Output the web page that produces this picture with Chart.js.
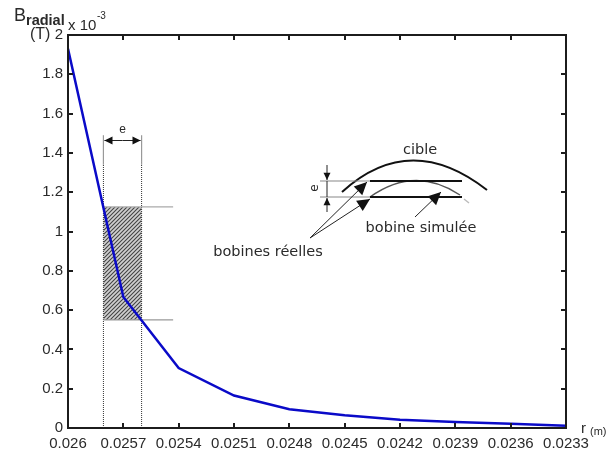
<!DOCTYPE html>
<html>
<head>
<meta charset="utf-8">
<script src="https://cdn.jsdelivr.net/npm/chart.js@4/dist/chart.umd.min.js"></script>
<style>
  html, body { margin: 0; padding: 0; background: #fff; }
  canvas { display: block; }
</style>
</head>
<body>
<canvas id="fieldChart" width="608" height="453"></canvas>
<script>
// values (B in units of 10^-3 T)
const radius = [0.026, 0.0257, 0.0254, 0.0251, 0.0248, 0.0245, 0.0242, 0.0239, 0.0236, 0.0233];
const bRadial = [1.93, 0.667, 0.305, 0.165, 0.095, 0.065, 0.042, 0.03, 0.022, 0.012];
const xTickLabels = ['0.026', '0.0257', '0.0254', '0.0251', '0.0248', '0.0245', '0.0242', '0.0239', '0.0236', '0.0233'];
const yTicks = [0, 0.2, 0.4, 0.6, 0.8, 1, 1.2, 1.4, 1.6, 1.8, 2];
const yTickLabels = ['0', '0.2', '0.4', '0.6', '0.8', '1', '1.2', '1.4', '1.6', '1.8', '2'];

// the hatched band e
const bandR = [0.025808, 0.025601];
const bandB = [0.55, 1.125];
const guideEndR = 0.02543;
const guideTopB = 1.49;
const guideSplitB = 1.34;

const SANS = '"Liberation Sans", Arial, sans-serif';
const DEJA = '"DejaVu Sans", sans-serif';
const INK = '#2a2a2a';

function hatchPattern() {
  const c = document.createElement('canvas');
  c.width = 4; c.height = 4;
  const g = c.getContext('2d');
  g.fillStyle = '#d0d0d0';
  g.fillRect(0, 0, 4, 4);
  g.strokeStyle = '#444';
  g.lineWidth = 1.1;
  g.beginPath();
  g.moveTo(-1, 3); g.lineTo(3, -1);
  g.moveTo(1, 5); g.lineTo(5, 1);
  g.stroke();
  return document.createElement('canvas').getContext('2d').createPattern(c, 'repeat');
}

function guide(x0, y0, x1, y1, color, width, dash) {
  return {
    data: [{ x: x0, y: y0 }, { x: x1, y: y1 }],
    borderColor: color, borderWidth: width, borderDash: dash || [],
    pointRadius: 0, fill: false, order: 5
  };
}

function arrow(ctx, x0, y0, x1, y1, size) {
  const a = Math.atan2(y1 - y0, x1 - x0);
  ctx.beginPath();
  ctx.moveTo(x0, y0); ctx.lineTo(x1, y1);
  ctx.stroke();
  ctx.beginPath();
  ctx.moveTo(x1, y1);
  ctx.lineTo(x1 - size * Math.cos(a - 0.45), y1 - size * Math.sin(a - 0.45));
  ctx.lineTo(x1 - size * Math.cos(a + 0.45), y1 - size * Math.sin(a + 0.45));
  ctx.closePath();
  ctx.fill();
}

function line(ctx, x0, y0, x1, y1) {
  ctx.beginPath();
  ctx.moveTo(x0, y0); ctx.lineTo(x1, y1);
  ctx.stroke();
}

function label(ctx, text, x, y, font, color, align) {
  ctx.font = font;
  ctx.fillStyle = color || INK;
  ctx.textAlign = align || 'left';
  ctx.textBaseline = 'middle';
  ctx.fillText(text, x, y);
}

// frame and inward ticks on all four sides
const framePlugin = {
  id: 'frame',
  afterDatasetsDraw(chart) {
    const { ctx, chartArea: a, scales } = chart;
    ctx.save();
    ctx.strokeStyle = '#1c1c1c';
    ctx.lineWidth = 2;
    ctx.strokeRect(a.left, a.top, a.right - a.left, a.bottom - a.top);
    radius.forEach(r => {
      const x = Math.round(scales.x.getPixelForValue(r));
      line(ctx, x, a.bottom, x, a.bottom - 5);
      line(ctx, x, a.top, x, a.top + 5);
    });
    yTicks.forEach(v => {
      const y = Math.round(scales.y.getPixelForValue(v));
      line(ctx, a.left, y, a.left + 5, y);
      line(ctx, a.right, y, a.right - 5, y);
    });
    ctx.restore();
  }
};

// axis titles and the inset sketch
const notesPlugin = {
  id: 'notes',
  afterDraw(chart) {
    const { ctx } = chart;
    ctx.save();
    label(ctx, 'B', 14, 16, '18px ' + SANS);
    label(ctx, 'radial', 26, 21, 'bold 14.5px ' + SANS);
    label(ctx, 'x 10', 68, 26, '15px ' + SANS);
    label(ctx, '-3', 97, 16, '10px ' + SANS);
    label(ctx, '(T)', 30, 35, '16px ' + SANS);
    label(ctx, 'r', 581, 429, '15px ' + SANS);
    label(ctx, '(m)', 590, 432, '11px ' + SANS);

    // width marker above the band
    const xa = chart.scales.x.getPixelForValue(bandR[0]);
    const xb = chart.scales.x.getPixelForValue(bandR[1]);
    ctx.strokeStyle = '#222'; ctx.fillStyle = '#111'; ctx.lineWidth = 1;
    arrow(ctx, (xa + xb) / 2, 140.5, xa + 1, 140.5, 9);
    arrow(ctx, (xa + xb) / 2, 140.5, xb - 1, 140.5, 9);
    label(ctx, 'e', (xa + xb) / 2, 130, '12px ' + SANS, INK, 'center');

    // sketch: target
    ctx.strokeStyle = '#111'; ctx.lineWidth = 2;
    ctx.beginPath();
    ctx.moveTo(342, 192);
    ctx.quadraticCurveTo(410, 130, 487, 190);
    ctx.stroke();
    // simulated coil
    ctx.strokeStyle = '#555'; ctx.lineWidth = 1.5;
    ctx.beginPath();
    ctx.moveTo(370, 197);
    ctx.quadraticCurveTo(415, 165, 460, 195);
    ctx.stroke();
    ctx.strokeStyle = '#bbb';
    line(ctx, 464, 199, 469, 203);
    // real coils
    ctx.strokeStyle = '#111'; ctx.lineWidth = 2;
    line(ctx, 370, 181, 462, 181);
    line(ctx, 370, 197, 462, 197);
    ctx.strokeStyle = '#888'; ctx.lineWidth = 1.2;
    line(ctx, 320, 181, 370, 181);
    line(ctx, 320, 197, 370, 197);
    // e marker
    ctx.strokeStyle = '#222'; ctx.fillStyle = '#111'; ctx.lineWidth = 1;
    arrow(ctx, 327, 165, 327, 180, 8);
    arrow(ctx, 327, 212, 327, 198, 8);
    line(ctx, 327, 181, 327, 197);
    ctx.save();
    ctx.translate(315, 188);
    ctx.rotate(-Math.PI / 2);
    label(ctx, 'e', 0, 0, '12px ' + DEJA, INK, 'center');
    ctx.restore();
    // pointers
    ctx.fillStyle = '#111'; ctx.strokeStyle = '#222';
    arrow(ctx, 310, 238, 367, 182, 14);
    arrow(ctx, 310, 238, 370, 199, 14);
    arrow(ctx, 415, 217, 441, 192, 14);

    label(ctx, 'cible', 420, 150, '14.5px ' + DEJA, INK, 'center');
    label(ctx, 'bobine simulée', 421, 228, '14.5px ' + DEJA, INK, 'center');
    label(ctx, 'bobines réelles', 268, 252, '14.5px ' + DEJA, INK, 'center');
    ctx.restore();
  }
};

new Chart(document.getElementById('fieldChart'), {
  type: 'line',
  plugins: [framePlugin, notesPlugin],
  data: {
    datasets: [
      {
        data: radius.map((r, i) => ({ x: r, y: bRadial[i] })),
        borderColor: '#0a0ac8', borderWidth: 2.5, pointRadius: 0, tension: 0,
        fill: false, order: 1
      },
      {
        data: bandR.map(r => ({ x: r, y: bandB[1] })),
        borderWidth: 0, pointRadius: 0, order: 9,
        backgroundColor: hatchPattern(), fill: { value: bandB[0] }
      },
      guide(bandR[0], bandB[1], guideEndR, bandB[1], '#aaa', 1.3),
      guide(bandR[0], bandB[0], guideEndR, bandB[0], '#999', 1.3),
      guide(bandR[0], 0, bandR[0], guideSplitB, '#333', 1, [1, 1]),
      guide(bandR[1], 0, bandR[1], guideSplitB, '#333', 1, [1, 1]),
      guide(bandR[0], guideSplitB, bandR[0], guideTopB, '#999', 1.2),
      guide(bandR[1], guideSplitB, bandR[1], guideTopB, '#999', 1.2)
    ]
  },
  options: {
    responsive: false,
    animation: false,
    layout: { padding: { left: 0, top: 35, right: 42, bottom: 0 } },
    plugins: { legend: { display: false }, tooltip: { enabled: false } },
    scales: {
      x: {
        type: 'linear', reverse: true, min: radius[radius.length - 1], max: radius[0],
        grid: { display: false, drawTicks: false }, border: { display: false },
        afterBuildTicks: s => { s.ticks = radius.map(v => ({ value: v })); },
        afterFit: s => { s.height = 25; },
        ticks: {
          autoSkip: false, maxRotation: 0, padding: 7, color: INK,
          font: { family: SANS, size: 15 },
          callback: v => xTickLabels[radius.indexOf(v)]
        }
      },
      y: {
        min: 0, max: 2,
        grid: { display: false, drawTicks: false }, border: { display: false },
        afterBuildTicks: s => { s.ticks = yTicks.map(v => ({ value: v })); },
        afterFit: s => { s.width = 68; },
        ticks: {
          autoSkip: false, padding: 5, color: INK,
          font: { family: SANS, size: 15 },
          callback: v => yTickLabels[yTicks.indexOf(v)]
        }
      }
    }
  }
});
</script>
</body>
</html>
